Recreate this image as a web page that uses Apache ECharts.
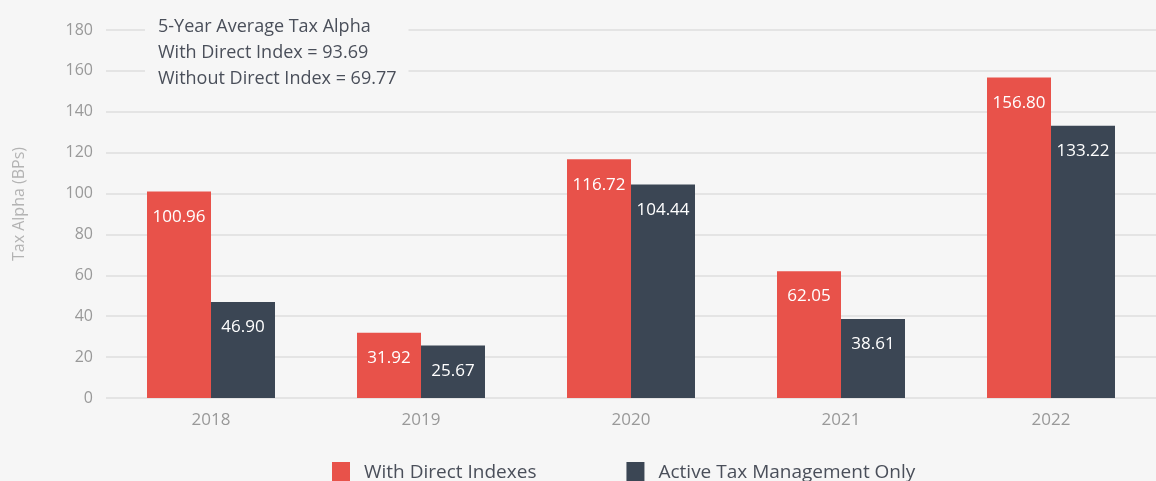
<!DOCTYPE html>
<html>
<head>
<meta charset="utf-8">
<script src="https://cdn.jsdelivr.net/npm/echarts@6/dist/echarts.min.js"></script>
<style>
  html, body { margin: 0; padding: 0; background: #f6f6f6; }
  #chart { width: 1156px; height: 481px; }
</style>
</head>
<body>
<div id="chart"></div>
<script>
var years = ['2018', '2019', '2020', '2021', '2022'];
var withDirect = [100.96, 31.92, 116.72, 62.05, 156.80];
var activeOnly = [46.90, 25.67, 104.44, 38.61, 133.22];
var noteLines = ['5-Year Average Tax Alpha', 'With Direct Index = 93.69', 'Without Direct Index = 69.77'];

var myChart = echarts.init(document.getElementById('chart'));

// 柱子里的白色数值
var barLabel = {
    show: true,
    position: 'insideTop',
    distance: 17,
    color: '#fff',
    fontSize: 17,
    fontFamily: 'Open Sans',
    formatter: function (p) { return p.value.toFixed(2); }
};

var option = {
    backgroundColor: '#f6f6f6',
    textStyle: { fontFamily: 'Open Sans' },
    grid: { left: 106, right: -2, top: 30, bottom: 83 },
    legend: {
        bottom: -3,
        left: 332,
        padding: 0,
        itemWidth: 18,
        itemHeight: 22,
        itemGap: 90,
        icon: 'rect',
        textStyle: { color: '#4a4f5a', fontSize: 19, padding: [0, 0, 0, 9] },
        data: ['With Direct Indexes', 'Active Tax Management Only']
    },
    xAxis: {
        type: 'category',
        data: years,
        axisLine: { show: false },
        axisTick: { show: false },
        axisLabel: { color: '#999', fontSize: 17, margin: 14 }
    },
    yAxis: {
        type: 'value',
        min: 0,
        max: 180,
        interval: 20,
        axisLabel: { color: '#999', fontSize: 16, margin: 13 },
        splitLine: { lineStyle: { color: '#dedede', width: 1.5 } }
    },
    graphic: [{
        // 左上角的说明文字
        type: 'text',
        left: 145,
        top: 14,
        z: 100,
        style: {
            text: noteLines.join('\n'),
            fill: '#4a4f5a',
            fontSize: 18,
            fontFamily: 'Open Sans',
            lineHeight: 26,
            backgroundColor: '#f6f6f6',
            padding: [0, 12, 0, 13]
        }
    }, {
        // Y 轴标题
        type: 'text',
        x: 19,
        y: 204,
        rotation: Math.PI / 2,
        style: {
            text: 'Tax Alpha (BPs)',
            fill: '#b3b3b3',
            fontSize: 16,
            fontFamily: 'Open Sans',
            align: 'center',
            verticalAlign: 'middle'
        }
    }],
    series: [{
        name: 'With Direct Indexes',
        type: 'bar',
        barWidth: 64,
        barGap: '0%',
        itemStyle: { color: '#e8524a' },
        label: barLabel,
        data: withDirect
    }, {
        name: 'Active Tax Management Only',
        type: 'bar',
        barWidth: 64,
        itemStyle: { color: '#3b4654' },
        label: barLabel,
        data: activeOnly
    }]
};

myChart.setOption(option);
</script>
</body>
</html>
